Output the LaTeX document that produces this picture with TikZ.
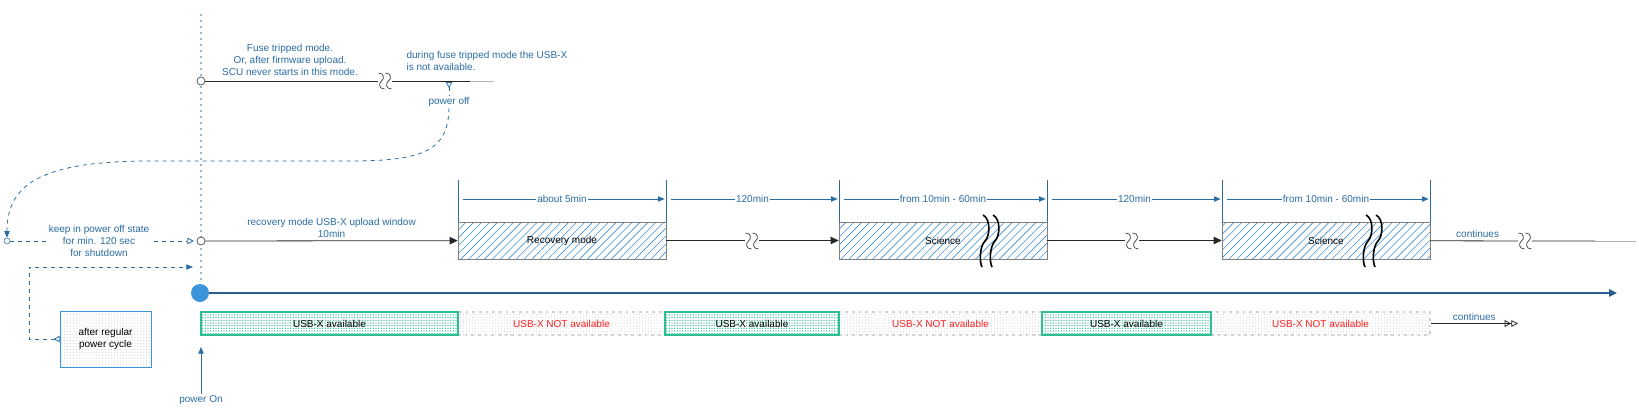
\documentclass[tikz,border=0pt]{standalone}
\usepackage{fontspec}
\setmainfont{Liberation Sans}
\usetikzlibrary{arrows.meta,patterns,patterns.meta}
\definecolor{dimblue}{HTML}{2B6CA3}
\definecolor{tlblue}{HTML}{285E8E}
\definecolor{ballblue}{HTML}{3A95DA}
\definecolor{availgreen}{HTML}{2DBE96}
\definecolor{hatchblue}{HTML}{3D8FD6}
\definecolor{notred}{HTML}{FF1F1F}
\newcommand{\smallsans}{\fontsize{7.5}{9}\selectfont}
\tikzset{
  lbl/.style={font=\smallsans, text=dimblue, align=center, inner sep=1pt},
  dimlbl/.style={lbl, fill=white},
  dimarrow/.style={dimblue, line width=0.6pt, -{Triangle[length=5pt,width=4pt]}, shorten <=4pt, shorten >=1pt},
  modebox/.style={draw=gray, pattern={Lines[angle=45,distance=4.2pt,line width=0.45pt]}, pattern color=hatchblue, minimum width=156pt, minimum height=27.75pt, inner sep=0pt, font=\smallsans},
  availbox/.style={draw=availgreen, line width=1.1pt, pattern={Dots[distance=2pt,radius=0.55pt]}, pattern color=availgreen, minimum height=17.25pt, inner sep=0pt, font=\smallsans},
  nabox/.style={draw=gray!35, dash pattern=on 2pt off 3pt, line width=0.8pt, pattern={Dots[distance=2.2pt,radius=0.45pt]}, pattern color=gray!35, minimum height=17.25pt, inner sep=0pt, font=\smallsans, text=notred},
  ringdot/.style={circle, draw=gray!70!black, fill=white, line width=0.6pt, minimum size=6pt, inner sep=0pt},
  flow/.style={black!85, line width=0.6pt, -{Triangle[length=6pt,width=5.5pt]}},
  fadeline/.style={black!30, line width=0.6pt},
  brk/.pic={
    \fill[white] (-7,-9) rectangle (7,9);
    \foreach \s in {-3.5,3.5}
      \draw[black!80, line width=0.5pt, shift={(\s,0)}] (-3,-8) .. controls (3,-8) and (3,-2) .. (0,0) .. controls (-3,2) and (-3,8) .. (3,8);
  },
  bigbrk/.pic={
    \foreach \s in {-5,5}
      \draw[black, line width=1.2pt, shift={(\s,0)}] (-2,-26) .. controls (6,-22) and (5,-5) .. (0,0) .. controls (-5,5) and (-6,20) .. (-3,26);
  }
}
\begin{document}
\begin{tikzpicture}[x=0.75pt, y=-0.75pt]
  \useasboundingbox (0,0) rectangle (1639,411);
  \coordinate (dtop) at (201,15);
  \coordinate (dbot) at (201,283);
  \draw[dimblue, line width=1.3pt, line cap=round, dash pattern=on 0pt off 4.5pt] (dtop) -- (dbot);

  \node[ringdot] (fcirc) at (201,81) {};
  \coordinate (ffade) at (470,81);
  \coordinate (fend) at (494,81);
  \draw[black!85, line width=0.6pt] (fcirc) -- (ffade);
  \draw[fadeline] (ffade) -- (fend);
  \pic at (385,81) {brk};
  \node[lbl] (fuse) at (290,60) {Fuse tripped mode.\\Or, after firmware upload.\\SCU never starts in this mode.};
  \node[lbl, anchor=west, align=left] (dfuse) at (405,61) {during fuse tripped mode the USB-X\\is not available.};

  \coordinate (pofftop) at (449,82);
  \node[lbl, fill=white] (poff) at (449,102) {power off};
  \node[circle, draw=dimblue, fill=white, minimum size=4.5pt, inner sep=0pt] (offc) at (7,241) {};
  \draw[dimblue, dashed, line width=0.6pt, {Triangle[open,reversed,length=4.5pt,width=5pt]}-] (pofftop) -- (poff);
  \draw[dimblue, dashed, line width=0.6pt, -{Triangle[length=5pt,width=4pt]}] (poff.south) .. controls (448,150) and (425,161) .. (350,161) -- (150,161) .. controls (40,161) and (7,185) .. (offc.north);

  \node[ringdot] (rcirc) at (201,241) {};
  \node[modebox] (rec) at (562,240.5) {Recovery mode};
  \node[modebox] (sci1) at (943,240.5) {Science};
  \node[modebox] (sci2) at (1326,240.5) {Science};
  \draw[flow] (rcirc) -- node[lbl, above=1pt] {recovery mode USB-X upload window\\10min} (rec);
  \draw[flow] (rec) -- (sci1);
  \pic at (752,241) {brk};
  \draw[flow] (sci1) -- (sci2);
  \pic at (1132,241) {brk};
  \pic at (990,241) {bigbrk};
  \pic at (1373,241) {bigbrk};
  \coordinate (cbrk) at (1525,241);
  \coordinate (cfade) at (1595,241);
  \coordinate (cstop) at (1636,241);
  \draw[black!85, line width=0.6pt] (sci2) -- node[lbl, above=1pt] {continues} (cbrk) -- (cfade);
  \draw[fadeline] (cfade) -- (cstop);
  \pic at (cbrk) {brk};

  \foreach \x [count=\i from 0] in {458,666,839,1047,1222,1430}{
    \coordinate (k\i) at (\x,180);
    \coordinate (d\i) at (\x,199);
    \draw[dimblue, line width=0.6pt] (k\i) -- (\x,222);
  }
  \foreach \a/\b/\txt in {0/1/about 5min,1/2/120min,2/3/from 10min - 60min,3/4/120min,4/5/from 10min - 60min}
    \draw[dimarrow] (d\a) -- node[dimlbl] {\txt} (d\b);

  \node[circle, fill=ballblue, minimum size=13.5pt, inner sep=0pt] (bcirc) at (200,293) {};
  \coordinate (tend) at (1617,293);
  \draw[tlblue, line width=2.2pt, -{Triangle[length=6pt,width=5.5pt]}] (bcirc) -- (tend);

  \node[nabox, minimum width=155.25pt] (na1) at (561.5,323.5) {USB-X NOT available};
  \node[nabox, minimum width=152.25pt] (na2) at (940.5,323.5) {USB-X NOT available};
  \node[nabox, minimum width=164.25pt] (na3) at (1320.5,323.5) {USB-X NOT available};
  \node[availbox, minimum width=192.75pt] (av1) at (329.5,323.5) {USB-X available};
  \node[availbox, minimum width=130.5pt] (av2) at (752,323.5) {USB-X available};
  \node[availbox, minimum width=126.75pt] (av3) at (1126.5,323.5) {USB-X available};
  \coordinate (cend) at (1518,323.5);
  \draw[black!85, line width=0.6pt, -{Triangle[open,length=5pt,width=5pt]Triangle[open,length=5pt,width=5pt]}] (na3) -- node[lbl, above=1pt] {continues} (cend);

  \node[lbl] (pon) at (201,400) {power On};
  \coordinate (ponend) at (201,347);
  \draw[dimblue, line width=0.6pt, -{Triangle[length=5pt,width=4pt]}] (pon) -- (ponend);

  \node[draw=ballblue, pattern={Dots[distance=2.2pt,radius=0.45pt]}, pattern color=gray!35, minimum width=68.25pt, minimum height=42pt, font=\smallsans, align=center] (pcyc) at (105.5,339) {after regular\\power cycle};
  \coordinate (lcorner) at (29,267);
  \coordinate (pcend) at (193,267);
  \draw[dimblue, dashed, line width=0.6pt, {Triangle[open,reversed,length=4.5pt,width=5pt]}-{Triangle[length=5pt,width=4pt]}] (pcyc.west) -| (lcorner) -- (pcend);

  \draw[dimblue, dashed, line width=0.6pt, -{Triangle[open,length=5pt,width=5pt]}, shorten >=2pt] (offc) -- (rcirc);
  \node[lbl, fill=white] (kpo) at (99,241) {keep in power off state\\for min. 120 sec\\for shutdown};
\end{tikzpicture}
\end{document}
